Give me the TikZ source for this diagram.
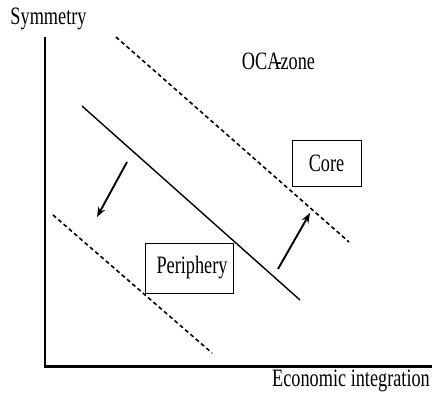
\documentclass[tikz,border=0pt]{standalone}
\usepackage{fontspec}
\setmainfont{Liberation Serif}
\usetikzlibrary{arrows.meta}
\newcommand{\sqtext}[1]{\scalebox{0.73}[1]{#1}}
\tikzset{
  lbl/.style={inner sep=0pt, font=\fontsize{25}{29}\selectfont},
  boxnode/.style={draw, line width=1pt, inner sep=0pt, font=\fontsize{25}{29}\selectfont},
  axis/.style={line width=2.4pt},
  border/.style={line width=1.4pt},
  dashline/.style={line width=1.6pt, dash pattern=on 4pt off 3pt},
  move/.style={line width=1.9pt, -{Stealth[length=10pt,width=7.5pt]}}
}
\begin{document}
\begin{tikzpicture}[x=1pt,y=-1pt]
\useasboundingbox (0,0) rectangle (432,392);
% axes
\coordinate (ytop) at (45,38);
\coordinate (orig) at (45,366.5);
\coordinate (xend) at (432,366.5);
\draw[axis, line cap=rect] (ytop) -- (orig) -- (xend);
\node[lbl, anchor=base] (sym) at (48.5,24) {\sqtext{Symmetry}};
\node[lbl, anchor=base] (econ) at (351,386) {\sqtext{Economic integration}};
\node[lbl, anchor=base] (oca) at (278.5,69) {\sqtext{OCA\kern-0.25em-\kern-0.08em zone}};
% lines
\coordinate (u1) at (116,37);
\coordinate (u2) at (349,242);
\coordinate (m1) at (82,106);
\coordinate (m2) at (300,300);
\coordinate (l1) at (53,215);
\coordinate (l2) at (212,353);
\draw[dashline] (u1) -- (u2);
\draw[border] (m1) -- (m2);
\draw[dashline] (l1) -- (l2);
% boxes
\node[boxnode, minimum width=69pt, minimum height=46pt] (core) at (326.5,163.5) {\sqtext{Core}\hspace{12pt}};
\node[boxnode, minimum width=88pt, minimum height=50pt] (peri) at (189,268) {\hspace{6pt}\sqtext{Periphery}};
% arrows
\coordinate (a1s) at (127,162);
\coordinate (a1e) at (97,217);
\coordinate (a2s) at (278,269);
\coordinate (a2e) at (310,213);
\draw[move] (a1s) -- (a1e);
\draw[move] (a2s) -- (a2e);
\end{tikzpicture}
\end{document}
